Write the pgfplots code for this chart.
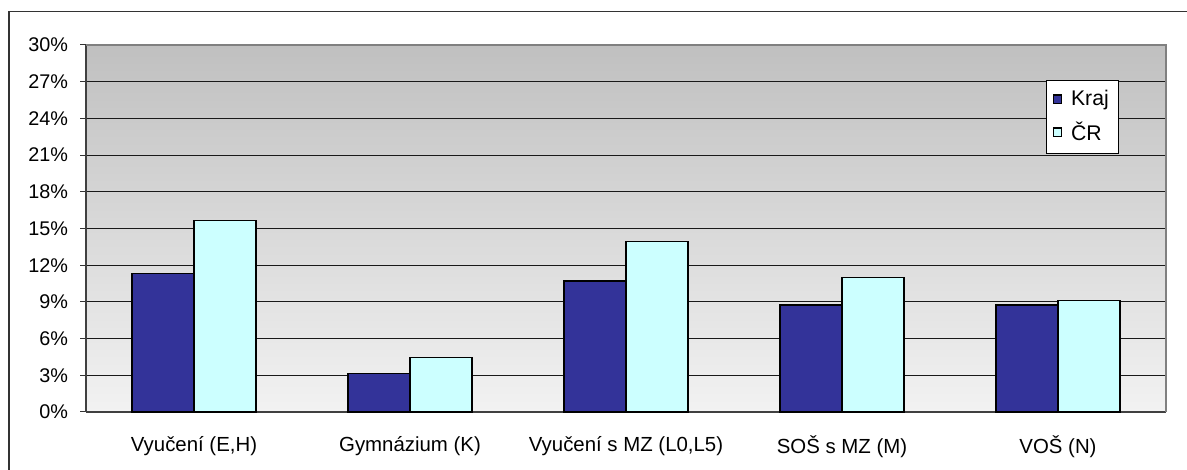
\documentclass[border=0pt]{standalone}
\usepackage{pgfplots}
\pgfplotsset{compat=1.18}
\usepackage{fontspec}
\setmainfont{Liberation Sans}
\definecolor{kraj}{HTML}{333399}
\definecolor{cr}{HTML}{CCFFFF}
\definecolor{bgtop}{HTML}{C0C0C0}
\definecolor{bgbot}{HTML}{F2F2F2}
\begin{document}
\begin{tikzpicture}
\useasboundingbox (0,0) rectangle (593.5pt,235pt);
\draw[line width=0.9pt, black!80] (4.65pt,0) -- (4.65pt,229.25pt) -- (593.5pt,229.25pt);
\begin{axis}[
  at={(43pt,29pt)}, anchor=south west,
  scale only axis, width=540pt, height=183.5pt,
  ybar=0pt, bar width=31pt,
  xmin=-0.5, xmax=4.5, ymin=0, ymax=30,
  ytick={0,3,...,30},
  yticklabel={\pgfmathprintnumber{\tick}\%},
  /pgf/number format/assume math mode=true,
  tick align=outside,
  major tick length=3pt,
  ymajorgrids,
  grid style={black!90, line width=0.5pt},
  xtick={0,1,2,3,4},
  xticklabels={Vyučení (E{,}H), Gymnázium (K), Vyučení s MZ (L0{,}L5), SOŠ s MZ (M), VOŠ (N)},
  xtick style={draw=none},
  extra x ticks={-0.5,0.5,1.5,2.5,3.5,4.5},
  extra x tick labels={},
  extra x tick style={grid=none, major tick length=3pt, tick style={draw=black!80, line width=0.5pt}},
  xticklabel style={font=\fontsize{10.2}{12}\selectfont, yshift=-5.5pt},
  yticklabel style={font=\fontsize{9.9}{11}\selectfont, xshift=-2.5pt},
  ytick style={black!80, line width=0.5pt},
  axis line style={black!75, line width=0.7pt},
  axis x line*=bottom, axis y line*=left,
  axis background/.style={top color=bgtop, bottom color=bgbot},
  legend style={at={(rel axis cs:0.889,0.905)}, anchor=north west,
    font=\fontsize{10.6}{12.5}\selectfont, draw=black, line width=0.4pt, fill=white,
    inner xsep=3pt, inner ysep=3pt, row sep=2.5pt},
  legend cell align=left,
  legend image code/.code={\draw[#1, draw=black, line width=0.55pt] (0pt,-2.2pt) rectangle (4.4pt,2.2pt); \path[draw=none, fill=none] (0pt,0pt) -- (7pt,0pt);},
  clip=false,
]
\addplot[fill=kraj, draw=black, line width=0.7pt] coordinates {(0,11.34) (1,3.16) (2,10.71) (3,8.75) (4,8.75)};
\addplot[fill=cr, draw=black, line width=0.7pt] coordinates {(0,15.64) (1,4.47) (2,13.96) (3,10.98) (4,9.13)};
\legend{Kraj, ČR}
\draw[gray, line width=1.2pt] (rel axis cs:0,1) -- (rel axis cs:1,1) -- (rel axis cs:1,0);
\end{axis}
\end{tikzpicture}
\end{document}
